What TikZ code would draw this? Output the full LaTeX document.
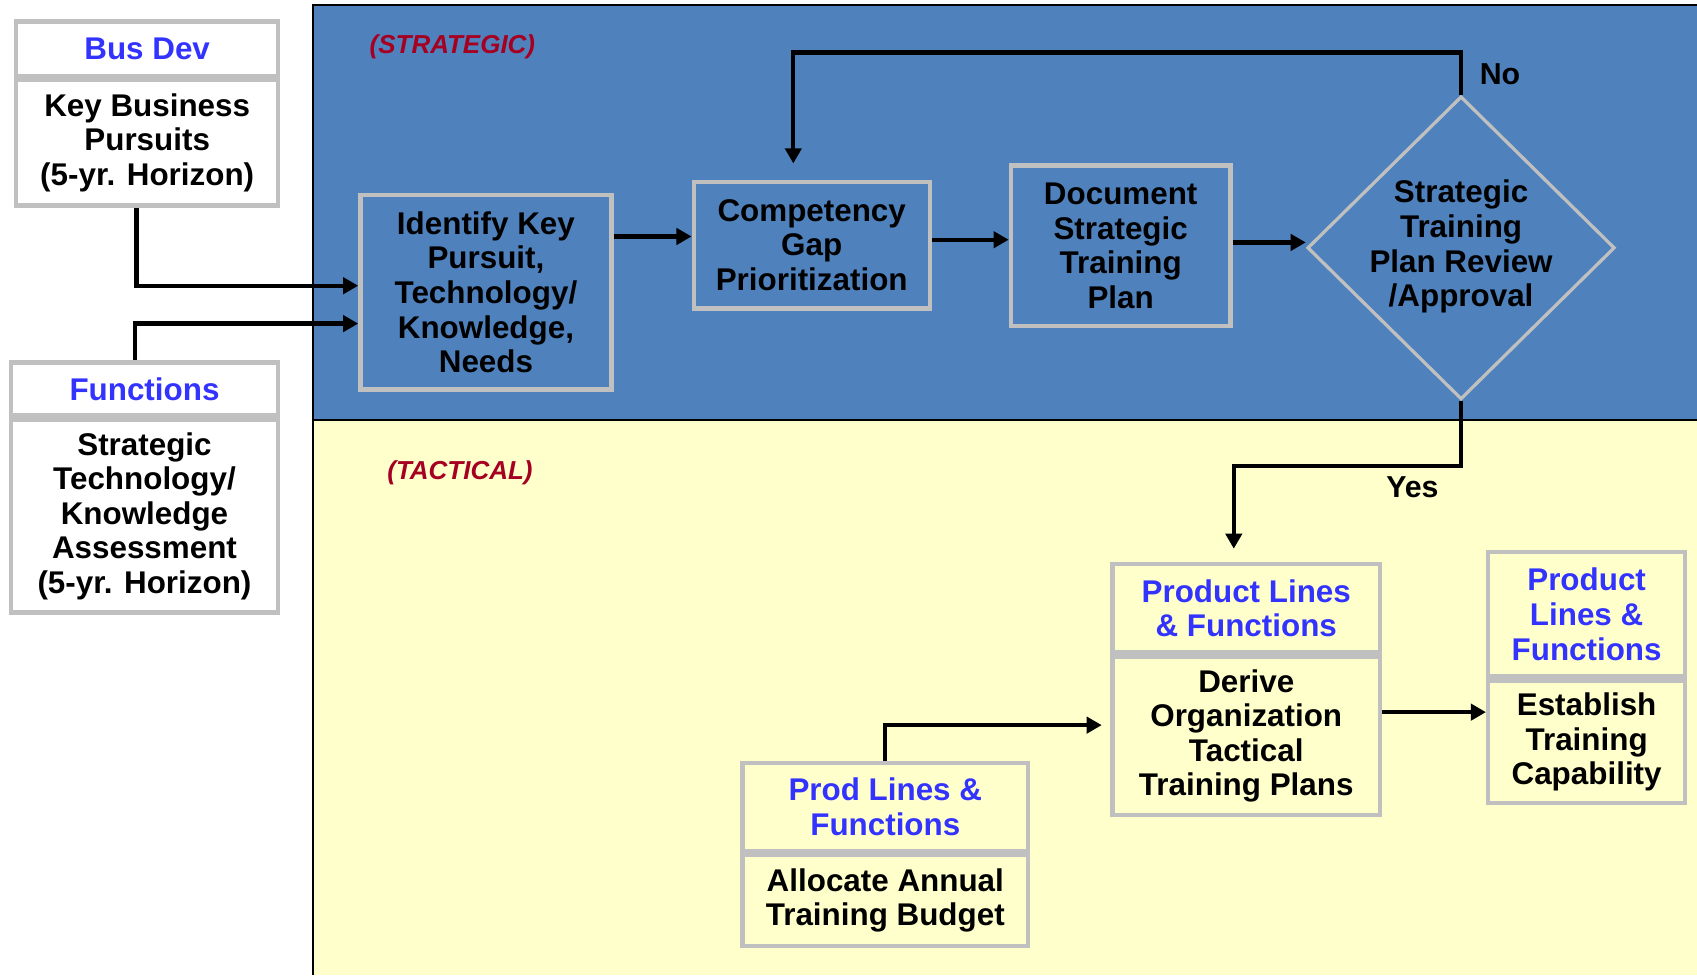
\documentclass[tikz,border=0pt]{standalone}
\usepackage{fontspec}
\setmainfont{Liberation Sans}
\usetikzlibrary{arrows.meta,shapes.geometric,positioning}
\definecolor{stratblue}{RGB}{79,129,189}
\definecolor{tactyellow}{RGB}{255,255,204}
\definecolor{boxgray}{RGB}{192,192,192}
\definecolor{headblue}{RGB}{51,51,255}
\definecolor{tagred}{RGB}{165,0,33}
\tikzset{
  box/.style={draw=boxgray,line width=4pt,inner sep=0pt,align=center,font=\bfseries\fontsize{29}{32}\selectfont},
  head/.style={box,text=headblue},
  decision/.style={diamond,draw=boxgray,line width=3pt,inner sep=0pt},
  flow/.style={line width=4pt,-{Triangle[length=14pt,width=15pt]}},
  tag/.style={text=tagred,font=\bfseries\itshape\fontsize{24}{28}\selectfont},
  answer/.style={font=\bfseries\fontsize{28}{32}\selectfont}
}

\begin{document}
\begin{tikzpicture}[x=1pt,y=-1pt]
\useasboundingbox (0,0) rectangle (1568,901);
\fill[stratblue] (289,5) rectangle (1568,388);
\fill[tactyellow] (289,388) rectangle (1568,901);
\draw[line width=2pt] (1568,5) -- (289,5) -- (289,901);
\draw[line width=2pt] (289,388) -- (1568,388);
\node[tag] (strategic) at (418,43) {(STRATEGIC)};
\node[tag] (tactical) at (425,437) {(TACTICAL)};

\node[head,minimum width=242,minimum height=50] (busdev) at (136,45) {Bus Dev};
\node[box,minimum width=242,minimum height=116,below=0pt of busdev] (pursuits) {Key Business\\Pursuits\\(5-yr. Horizon)};
\node[head,minimum width=247,minimum height=49] (fnhead) at (133.5,359.5) {Functions};
\node[box,minimum width=247,minimum height=178,below=0pt of fnhead] (assess) {Strategic\\Technology/\\Knowledge\\Assessment\\(5-yr. Horizon)};

\node[box,minimum width=232,minimum height=180] (identify) at (449,270) {Identify Key\\Pursuit,\\Technology/\\Knowledge,\\Needs};
\node[box,minimum width=218,minimum height=117] (gap) at (750,226.5) {Competency\\Gap\\Prioritization};
\node[box,minimum width=203,minimum height=148] (doc) at (1035.5,227) {Document\\Strategic\\Training\\Plan};
\node[decision,minimum width=284,minimum height=280] (review) at (1350,229) {};
\node[box,draw=none] (reviewtxt) at (1350,228) {Strategic\\Training\\Plan Review\\/Approval};

\node[head,minimum width=247,minimum height=82] (derhead) at (1151.5,562) {Product Lines\\\& Functions};
\node[box,minimum width=247,minimum height=146,below=0pt of derhead] (derbody) {Derive\\Organization\\Tactical\\Training Plans};
\node[head,minimum width=182,minimum height=115] (caphead) at (1466,567.5) {Product\\Lines \&\\Functions};
\node[box,minimum width=182,minimum height=113,below=0pt of caphead] (capbody) {Establish\\Training\\Capability};
\node[head,minimum width=264,minimum height=81] (budhead) at (818,745.5) {Prod Lines \&\\Functions};
\node[box,minimum width=264,minimum height=84,below=0pt of budhead] (budbody) {Allocate Annual\\Training Budget};

\draw[flow] ([xshift=-10pt]pursuits.south) |- ([yshift=6pt]identify.west);
\draw[flow] ([xshift=-8.5pt]fnhead.north) |- ([yshift=-29pt]identify.west);
\draw[flow] ([yshift=8pt]identify.east |- gap.west) -- ([yshift=8pt]gap.west);
\draw[flow] ([yshift=5pt]gap.east) -- ([yshift=5pt]gap.east -| doc.west);
\draw[flow] ([yshift=3pt]doc.east) -- ([yshift=3pt]doc.east -| review.west);
\draw[flow] (review.north) -- ++(0,-39) -| ([xshift=-17pt,yshift=15pt]gap.north);
\node[answer] (no) at (1386,69) {No};
\draw[flow] (review.south) -- ++(0,60) -| ([xshift=-11.5pt,yshift=12pt]derhead.north);
\node[answer] (yes) at (1305,450) {Yes};
\draw[flow] (budhead.north) |- ([xshift=-8pt,yshift=10pt]derbody.west);
\draw[flow] ([yshift=22pt]derbody.east) -- ([yshift=22pt]derbody.east -| capbody.west);
\end{tikzpicture}
\end{document}
